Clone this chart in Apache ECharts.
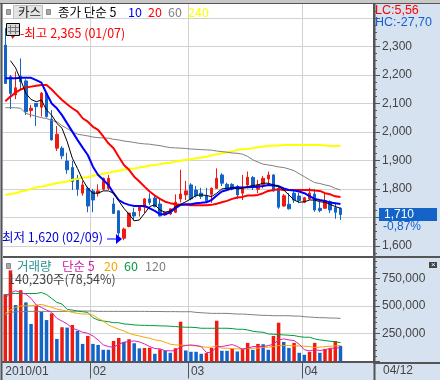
<!DOCTYPE html>
<html>
<head>
<meta charset="utf-8">
<style>html,body{margin:0;padding:0;background:#fff}#chart{width:440px;height:380px}</style>
<script src="https://cdn.jsdelivr.net/npm/echarts@6/dist/echarts.min.js"></script>
</head>
<body>
<div id="chart"></div>
<script>
var openPrices = [2305,2194,2130,2196,2179,2075,2100,2087,2136,2045,1943,1943,1898,1875,1837,1785,1802,1793,1785,1799,1802,1747,1723,1627,1668,1717,1724,1736,1765,1768,1747,1709,1712,1718,1765,1779,1814,1796,1785,1775,1781,1802,1849,1816,1816,1808,1785,1814,1840,1799,1816,1835,1849,1802,1740,1746,1785,1775,1753,1765,1782,1732,1732,1755,1734,1732];
var closePrices = [2170,2135,2155,2176,2071,2083,2089,2136,2054,1972,1992,1916,1867,1826,1799,1814,1740,1761,1793,1837,1837,1714,1645,1659,1715,1705,1738,1765,1752,1738,1705,1718,1730,1753,1782,1793,1765,1776,1773,1758,1802,1837,1820,1802,1799,1779,1800,1841,1805,1814,1837,1849,1793,1736,1776,1730,1761,1759,1769,1785,1726,1724,1758,1726,1718,1710];
var lowPrices = [2170,2080,2115,2147,2060,2051,2021,2054,2050,1970,1933,1904,1853,1796,1776,1776,1718,1718,1773,1795,1796,1712,1625,1620,1665,1688,1703,1715,1744,1735,1703,1705,1708,1715,1753,1761,1760,1770,1765,1750,1751,1800,1810,1798,1795,1765,1761,1802,1796,1785,1802,1816,1790,1730,1737,1728,1751,1750,1750,1762,1720,1718,1730,1715,1695,1691];
var highPrices = [2365,2200,2212,2258,2185,2095,2100,2140,2136,2077,2021,1950,1927,1898,1849,1828,1808,1800,1816,1840,1849,1769,1725,1664,1716,1734,1740,1768,1785,1775,1765,1720,1732,1781,1867,1828,1820,1810,1804,1804,1805,1872,1855,1822,1820,1814,1849,1861,1845,1832,1845,1861,1852,1810,1782,1785,1796,1787,1772,1804,1800,1754,1785,1760,1751,1735];

var ma5 = [null,2250,2225,2182,2135,2114,2106,2112,2077,2059,2030,2013,1966,1908,1872,1832,1802,1785,1785,1793,1793,1785,1758,1732,1711,1688,1691,1714,1738,1744,1726,1718,1723,1738,1746,1755,1765,1777,1779,1777,1773,1785,1800,1802,1805,1800,1802,1808,1812,1814,1820,1820,1814,1808,1796,1779,1761,1753,1755,1761,1761,1755,1753,1746,1738,1732];
var ma10 = [2188,2188,2188,2190,2190,2190,2182,2173,2135,2100,2083,2059,2030,2001,1972,1945,1919,1878,1849,1832,1814,1785,1761,1750,1744,1740,1740,1740,1732,1723,1711,1711,1718,1732,1744,1746,1746,1750,1751,1753,1761,1777,1791,1796,1802,1806,1805,1806,1807,1808,1810,1814,1812,1810,1802,1796,1794,1791,1785,1775,1765,1761,1758,1752,1750,1747];
var ma20 = [2108,2124,2138,2149,2156,2159,2162,2165,2165,2149,2130,2112,2097,2083,2071,2048,2036,2018,2007,1984,1960,1943,1913,1884,1867,1843,1826,1808,1791,1777,1765,1755,1750,1746,1744,1744,1743,1743,1743,1743,1744,1748,1753,1758,1765,1770,1772,1777,1777,1779,1785,1793,1796,1799,1796,1796,1796,1796,1796,1796,1794,1793,1785,1781,1774,1772];
var ma60 = [2085,2085,2085,2083,2065,2060,2055,2050,2047,2040,2036,2022,2012,2001,1992,1989,1986,1982,1980,1979,1978,1974,1972,1968,1966,1963,1960,1958,1957,1954,1952,1948,1945,1944,1943,1942,1940,1939,1938,1937,1936,1933,1931,1929,1926,1925,1922,1914,1902,1894,1887,1884,1881,1877,1875,1870,1864,1853,1843,1832,1822,1819,1814,1810,1802,1796];
var ma240 = [1779,1782,1785,1791,1794,1800,1805,1808,1812,1816,1820,1823,1826,1832,1835,1840,1841,1846,1849,1853,1857,1861,1864,1867,1870,1872,1875,1878,1882,1884,1887,1890,1892,1896,1899,1902,1904,1908,1910,1913,1917,1922,1925,1928,1931,1937,1939,1940,1943,1946,1949,1951,1952,1952,1954,1954,1954,1954,1954,1954,1954,1954,1952,1951,1951,1951];

var volumes = [606000,821000,508000,642000,532000,338000,499000,448000,373000,433000,203000,308000,305000,329000,275000,158000,230000,158000,149000,105000,105000,185000,212000,176000,200000,164000,118000,121000,124000,69000,110000,99000,78000,119000,358000,99000,87000,87000,69000,75000,122000,367000,96000,96000,113000,90000,116000,167000,105000,158000,155000,105000,230000,349000,176000,122000,167000,78000,60000,87000,167000,78000,113000,119000,185000,140230];
var vma5 = [568,618,636,621,606,568,508,487,463,442,388,364,338,299,284,263,254,230,194,149,134,128,155,173,179,185,176,158,134,116,114,96,96,96,134,143,149,143,134,81,81,134,134,143,152,134,110,119,134,134,134,143,155,194,203,194,188,155,105,96,105,99,105,119,119,125];
var vma20 = [433,463,487,499,502,502,508,514,502,487,472,463,454,442,433,427,427,418,388,364,329,308,290,275,254,239,230,218,209,194,188,173,155,149,146,146,143,140,134,128,128,140,119,119,116,113,113,116,119,119,128,128,134,143,143,143,140,140,137,134,125,128,134,137,140,143];
var vma60 = [597,612,612,612,612,612,612,621,603,568,532,517,469,463,454,448,442,394,373,364,358,349,349,338,335,329,326,326,323,323,320,320,317,314,311,308,308,305,299,299,299,299,299,299,296,290,290,284,272,266,263,248,245,242,239,236,233,224,218,218,203,194,188,182,176,170];
var vma120 = [418,442,448,448,450,451,451,451,451,451,451,451,451,451,454,454,454,454,451,451,451,451,451,451,451,451,451,451,450,450,450,449,449,449,448,448,448,442,439,436,433,433,433,433,430,427,427,424,421,418,415,415,412,412,412,412,409,409,403,400,397,394,394,391,391,388];

var priceTicks = [1600,1700,1800,1900,2000,2100,2200,2300,2400];
var priceMinorTicks = [1575,1600,1625,1650,1675,1700,1725,1750,1775,1800,1825,1850,1875,1900,1925,1950,1975,2000,2025,2050,2075,2100,2125,2150,2175,2200,2225,2250,2275,2300,2325,2350,2375,2400,2425];
var volumeTicks = [0,250000,500000,750000];
var volumeMinorTicks = [0,50000,100000,150000,200000,250000,300000,350000,400000,450000,500000,550000,600000,650000,700000,750000,800000,850000,900000];
var monthLabels = {0:'2010/01',17:'02',36:'03',58:'04'};
var hiddenPriceLabels = [1700,2400];

var RED = '#ee1c10', BLUE = '#1464c8';
var KR = '"Noto Sans CJK KR"';
var NUM = '"Liberation Sans"';
var categories = [];
for (var i = 0; i < 72; i++) categories.push(String(i));

var candles = openPrices.map(function (o, i) {
    return [o, closePrices[i], lowPrices[i], highPrices[i]];
});

function isMonth(index) {
    return monthLabels[index] !== undefined;
}
function commas(v) {
    return String(v).replace(/\B(?=(\d{3})+$)/g, ',');
}
function label(text, x, y, fill, font) {
    return {type: 'text', z: 100, silent: true, style: {
        text: text, x: x, y: y, fill: fill, font: font || ('12.5px ' + KR), verticalAlign: 'middle'
    }};
}
function box(x, y, w, h, fill, stroke, z) {
    return {type: 'rect', z: z || 100, silent: true, shape: {x: x, y: y, width: w, height: h},
        style: {fill: fill, stroke: stroke || null, lineWidth: stroke ? 1 : 0}};
}
function seg(x1, y1, x2, y2, color, w) {
    return {type: 'line', z: 100, silent: true, shape: {x1: x1, y1: y1, x2: x2, y2: y2},
        style: {stroke: color, lineWidth: w || 1}};
}
function tri(points, color) {
    return {type: 'polygon', z: 100, silent: true, shape: {points: points}, style: {fill: color}};
}
function maLine(name, data, color, width, xi, yi) {
    return {name: name, type: 'line', data: data, xAxisIndex: xi, yAxisIndex: yi, showSymbol: false,
        symbol: 'none', lineStyle: {color: color, width: width}, silent: true};
}
function vol(a) {
    return a.map(function (v) { return v * 1000; });
}
function xAxisBase(gridIndex) {
    return {type: 'category', gridIndex: gridIndex, data: categories, boundaryGap: true,
        axisLine: {show: false}, axisTick: {show: false}, axisLabel: {show: false},
        splitLine: {show: true, interval: function (i) { return isMonth(i) && i > 0; }, lineStyle: {color: '#d2d2d2', width: 1}}};
}
function minorAxis(gridIndex, min, max, ticks) {
    return {type: 'value', gridIndex: gridIndex, position: 'right', min: min, max: max, scale: true,
        axisLine: {show: false}, splitLine: {show: false}, axisLabel: {show: false},
        axisTick: {show: true, length: 3, customValues: ticks, lineStyle: {color: '#555'}}};
}

var bottomAxis = xAxisBase(1);
bottomAxis.axisLine = {show: true, lineStyle: {color: '#555', width: 2}};
bottomAxis.axisTick = {show: true, length: 17, interval: function (i) { return isMonth(i) && i > 0; }, lineStyle: {color: '#555'}};
bottomAxis.axisLabel = {show: true, align: 'left', margin: 3, color: '#444', fontFamily: NUM, fontSize: 12,
    interval: function (i) { return isMonth(i); },
    formatter: function (v, i) { return monthLabels[i] || ''; }};

var option = {
    animation: false,
    backgroundColor: '#d6e2f0',
    grid: [
        {left: 2.7, right: 66, top: 4, height: 253, show: true, backgroundColor: '#fff', borderWidth: 0},
        {left: 2.7, right: 66, top: 258, height: 105, show: true, backgroundColor: '#fff', borderWidth: 0}
    ],
    xAxis: [xAxisBase(0), bottomAxis],
    yAxis: [
        {type: 'value', gridIndex: 0, position: 'right', min: 1561, max: 2449, scale: true,
            axisLine: {show: true, lineStyle: {color: '#555', width: 2}},
            axisTick: {show: true, length: 6, customValues: priceTicks, lineStyle: {color: '#555'}},
            axisLabel: {show: true, margin: 8, color: '#444', fontFamily: NUM, fontSize: 12, customValues: priceTicks,
                formatter: function (v) { return hiddenPriceLabels.indexOf(v) >= 0 ? '' : commas(v); }},
            splitLine: {show: true, lineStyle: {color: '#d2d2d2', width: 1}}},
        {type: 'value', gridIndex: 1, position: 'right', min: -14000, max: 932000, scale: true,
            axisLine: {show: true, lineStyle: {color: '#555', width: 2}},
            axisTick: {show: true, length: 6, customValues: volumeTicks, lineStyle: {color: '#555'}},
            axisLabel: {show: true, margin: 8, color: '#444', fontFamily: NUM, fontSize: 12,
                customValues: volumeTicks.slice(1), formatter: function (v) { return commas(v); }},
            splitLine: {show: true, lineStyle: {color: '#d2d2d2', width: 1}}},
        minorAxis(0, 1561, 2449, priceMinorTicks),
        minorAxis(1, -14000, 932000, volumeMinorTicks)
    ],
    series: [
        maLine('240', ma240, '#ffff00', 2, 0, 0),
        maLine('60', ma60, '#808080', 1, 0, 0),
        {name: 'price', type: 'candlestick', data: candles, xAxisIndex: 0, yAxisIndex: 0, barWidth: 3, silent: true,
            itemStyle: {color: RED, color0: BLUE, borderColor: RED, borderColor0: BLUE, borderWidth: 1}},
        maLine('20', ma20, '#ff0000', 2, 0, 0),
        maLine('10', ma10, '#0000ff', 2, 0, 0),
        maLine('5', ma5, '#000000', 1, 0, 0),
        {name: 'volume', type: 'bar', data: volumes, xAxisIndex: 1, yAxisIndex: 1, barWidth: 3.5, silent: true,
            itemStyle: {color: function (p) {
                return p.dataIndex === 0 || volumes[p.dataIndex] > volumes[p.dataIndex - 1] ? RED : BLUE;
            }}},
        maLine('v120', vol(vma120), '#808080', 1, 1, 1),
        maLine('v60', vol(vma60), '#009a3c', 1, 1, 1),
        maLine('v20', vol(vma20), '#f5a800', 1, 1, 1),
        maLine('v5', vol(vma5), '#e020b0', 1, 1, 1)
    ],
    graphic: [
        box(0, 0, 440, 3, '#c8c8c8'),
        seg(0, 3.5, 440, 3.5, '#555', 1),
        seg(1.5, 3, 1.5, 380, '#555', 2),
        seg(374, 363, 440, 363, '#555', 2),
        seg(374, 257, 440, 257, '#555', 2),
        seg(374.5, 3, 374.5, 380, '#555', 2),
        seg(3, 257, 374, 257, '#555', 2),

        box(6.5, 9.5, 4, 5, '#aaa', '#888'),
        box(13.5, 5.5, 29, 13, '#e4e4e4', '#c0c0c0'),
        label('카스', 18, 12, '#222'),
        box(46.5, 9.5, 4, 5, '#aaa', '#888'),
        label('종가 단순 5', 58, 12, '#000'),
        label('10', 128, 12, '#0000ff'),
        label('20', 148, 12, '#ff0000'),
        label('60', 168, 12, '#808080'),
        label('240', 188, 12, '#ffff00'),

        box(6.5, 23.5, 13, 12, '#d8d8d8', '#000'),
        seg(10.5, 25, 10.5, 34, '#777'), seg(15.5, 25, 15.5, 34, '#777'),
        seg(8, 27.5, 19, 27.5, '#777'), seg(8, 31.5, 19, 31.5, '#777'),
        label('-최고 2,365 (01/07)', 20, 33, '#ff0000'),
        tri([[11, 36], [15, 36], [12.5, 39]], '#ee1c10'),

        label('최저 1,620 (02/09)', 2, 237, '#0000d8'),
        seg(107, 239, 117, 239, '#0000ff', 1),
        tri([[116, 234], [122, 239], [116, 244]], '#0000ff'),

        label('LC:5,56', 375, 11, '#ff0000', '12.5px ' + NUM),
        label('HC:-27,70', 375, 23, '#1560d0', '12.5px ' + NUM),
        box(379, 208, 58, 13, '#1464c8'),
        label('1,710', 384, 215, '#fff', '12px ' + NUM),
        label('-0,87%', 383, 227, '#1560d0', '12px ' + NUM),

        box(6.5, 263.5, 4, 5, '#aaa', '#888'),
        label('거래량', 17, 266, '#2a9090'),
        label('단순 5', 62, 266, '#d020a0'),
        label('20', 104, 266, '#f5a800'),
        label('60', 124, 266, '#009a3c'),
        label('120', 145, 266, '#808080'),
        label('140,230주(78,54%)', 8, 279, '#444'),
        box(429, 262, 8, 6, '#444'),
        label('×', 431, 265, '#fff', '8px ' + NUM),
        label('04/12', 383, 371, '#444', '12px ' + NUM)
    ]
};

var chart = echarts.init(document.getElementById('chart'));
chart.setOption(option);
</script>
</body>
</html>
